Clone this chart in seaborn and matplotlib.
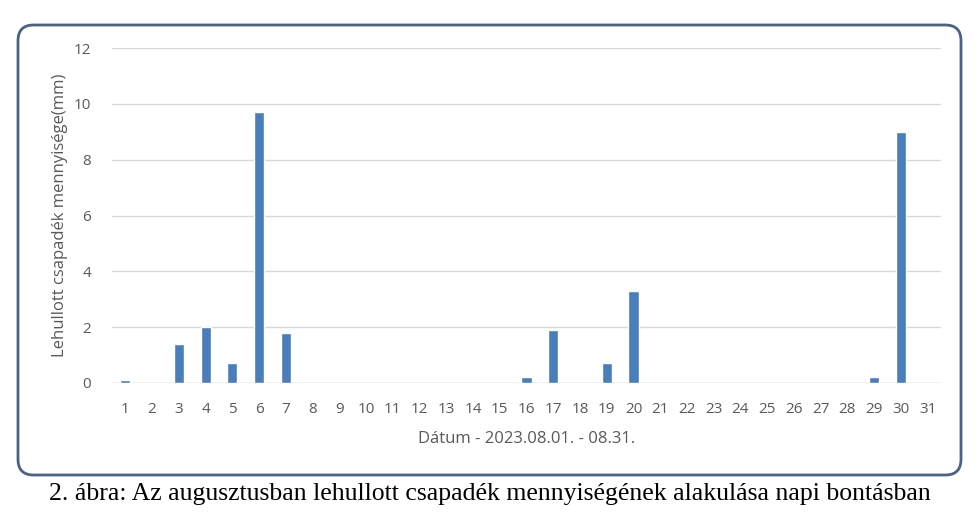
import seaborn as sns
import matplotlib.pyplot as plt
import pandas as pd
from matplotlib.patches import FancyBboxPatch

# napi csapadek adatok, 2023 augusztus
napok = [str(d) for d in range(1, 32)]
csapadek = [0.1, 0, 1.4, 2.0, 0.7, 9.7, 1.8, 0, 0, 0,
            0, 0, 0, 0, 0, 0.2, 1.9, 0, 0.7, 3.3,
            0, 0, 0, 0, 0, 0, 0, 0, 0.2, 9.0, 0]
y_ticks = [0, 2, 4, 6, 8, 10, 12]

sns.set_theme(style="white")
plt.rcParams['font.family'] = ['Open Sans', 'DejaVu Sans']

df = pd.DataFrame({"nap": napok, "mm": csapadek})

fig = plt.figure(figsize=(9.8, 5.2), dpi=100)
ax = fig.add_axes([112 / 980, 1 - 383 / 520, 829 / 980, 335 / 520])

sns.barplot(data=df, x="nap", y="mm", color="#4a7ebb", width=0.38,
            saturation=1, ax=ax, zorder=3)

ax.set_ylim(0, 12)
ax.set_yticks(y_ticks)
ax.yaxis.grid(True, color="#d9d9d9", lw=1, zorder=0)
for s in ax.spines.values():
    s.set_visible(False)
ax.axhline(0, color="#d0d0d0", lw=1, zorder=2)
ax.tick_params(axis="both", length=0, labelsize=11, labelcolor="#595959")
ax.tick_params(axis="y", pad=15)
ax.tick_params(axis="x", pad=14)
ax.set_xlim(-0.5, 30.5)

ax.set_xlabel("Dátum - 2023.08.01. - 08.31.", fontsize=12, color="#595959", labelpad=10)
ax.set_ylabel("Lehullott csapadék mennyisége(mm)", fontsize=12, color="#595959", labelpad=4)

# keret
box = FancyBboxPatch((18 / 980, 1 - 475 / 520), 943 / 980, 450 / 520,
                     boxstyle="round,pad=0,rounding_size=0.016",
                     transform=fig.transFigure, fill=False,
                     edgecolor="#4a6285", lw=2, mutation_aspect=980 / 520)
fig.patches.append(box)

fig.text(0.5, 1 - 494 / 520,
         "2. ábra: Az augusztusban lehullott csapadék mennyiségének alakulása napi bontásban",
         ha="center", va="center", fontsize=18.5, family=["Liberation Serif", "DejaVu Serif"],
         color="black")

fig.savefig("out.png", dpi=100)
